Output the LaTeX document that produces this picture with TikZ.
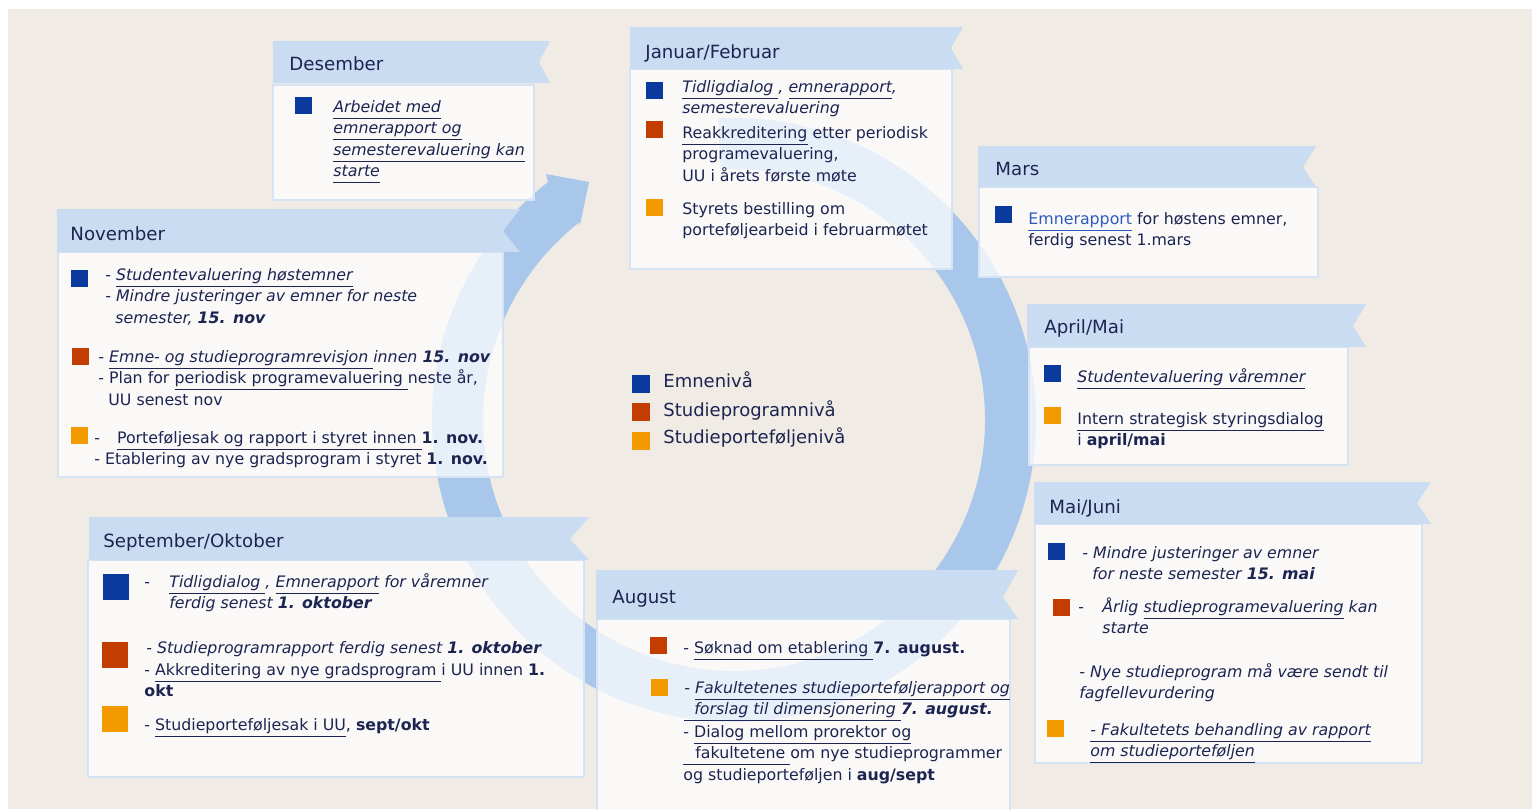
\documentclass[tikz,border=0pt]{standalone}
\usepackage{fontspec}
\setmainfont{DejaVu Sans}

\definecolor{paper}{HTML}{F0EBE4}
\definecolor{cyclecol}{HTML}{A9C7EA}
\definecolor{headblue}{HTML}{CADCF1}
\definecolor{boxfill}{HTML}{FFFFFF}
\definecolor{boxline}{HTML}{D5E3F4}
\definecolor{ink}{HTML}{1C2452}
\definecolor{linkblue}{HTML}{2F5BC0}
\definecolor{lvlblue}{HTML}{0B3A9F}
\definecolor{lvlred}{HTML}{C43D00}
\definecolor{lvlorange}{HTML}{F29A00}

\newcommand\bodyfont{\fontsize{7.9}{10.75}\selectfont}
\newcommand\headfont{\fontsize{9.1}{11}\selectfont}
\newcommand\legfont{\fontsize{9}{11}\selectfont}
\newcommand\uln[1]{\smash{\underline{#1\vphantom{g}}}}
% lines of one item, the first baseline is the node's base
\newcommand\txtlines[1]{\begin{tabular}[t]{@{}l@{}}#1\end{tabular}}

\tikzset{
  body/.style={fill=boxfill, fill opacity=0.72, draw=boxline, line width=1pt},
  ribbon/.style={fill=headblue},
  sq/.style={rectangle, inner sep=0pt, minimum size=8.5pt},
  txt/.style={anchor=base west, inner sep=0pt, text=ink, font=\bodyfont},
  head/.style={anchor=base west, inner sep=0pt, text=ink, font=\headfont},
  leg/.style={anchor=base west, inner sep=0pt, text=ink, font=\legfont}
}

\begin{document}
\begin{tikzpicture}[x=0.5pt,y=-0.5pt]
\useasboundingbox (0,0) rectangle (1532,809);
\fill[white] (0,0) rectangle (1532,809);
\fill[paper] (8,9) rectangle (1532,809);

% the year cycle
\coordinate (hub) at (734,420);
\fill[cyclecol] ([shift={(267:302)}]hub) arc[start angle=267, end angle=592, radius=302]
  -- (546,174) -- (589,182) -- (580,225)
  -- ([shift={(592:251)}]hub) arc[start angle=592, end angle=267, radius=251] -- cycle;

% legend
\node[sq, fill=lvlblue, minimum size=9pt] (leg-b) at (641,384) {};
\node[sq, fill=lvlred, minimum size=9pt] (leg-r) at (641,412) {};
\node[sq, fill=lvlorange, minimum size=9pt] (leg-o) at (641,441) {};
\node[leg] (leg-t1) at (663,387) {Emnenivå};
\node[leg] (leg-t2) at (663,416) {Studieprogramnivå};
\node[leg] (leg-t3) at (663,443) {Studieporteføljenivå};

% Desember
\draw[body] (273,85) rectangle (534,200);
\fill[ribbon] (273,41) -- (550,41) -- (539,62) -- (550,83) -- (273,83) -- cycle;
\node[head] (des-h) at (289,70) {Desember};
\node[sq, fill=lvlblue] (des-b) at (303,105) {};
\node[txt, font=\bodyfont\itshape] (des-t1) at (333,112) {\txtlines{\uln{Arbeidet med}\\\uln{emnerapport og}\\\uln{semesterevaluering kan}\\\uln{starte}}};

% Januar/Februar
\draw[body] (630,69) rectangle (952,269);
\fill[ribbon] (630,27) -- (963,27) -- (951,48) -- (963,69) -- (630,69) -- cycle;
\node[head] (jan-h) at (645,58) {Januar/Februar};
\node[sq, fill=lvlblue] (jan-b) at (654.5,90) {};
\node[sq, fill=lvlred] (jan-r) at (654.5,129.5) {};
\node[sq, fill=lvlorange] (jan-o) at (654.5,207.5) {};
\node[txt, font=\bodyfont\itshape] (jan-t1) at (682,92) {\txtlines{\uln{Tidligdialog }, \uln{emnerapport},\\semesterevaluering}};
\node[txt] (jan-t2) at (682,138) {\txtlines{\uln{Reakkreditering} etter periodisk\\programevaluering,\\UU i årets første møte}};
\node[txt] (jan-t3) at (682,214) {\txtlines{Styrets bestilling om\\porteføljearbeid i februarmøtet}};

% Mars
\draw[body] (979,187) rectangle (1318,277);
\fill[ribbon] (978,146) -- (1316,146) -- (1303,167) -- (1316,187) -- (978,187) -- cycle;
\node[head] (mar-h) at (995,175) {Mars};
\node[sq, fill=lvlblue] (mar-b) at (1003,214.5) {};
\node[txt] (mar-t1) at (1028,224) {\txtlines{\textcolor{linkblue}{\uln{Emnerapport}} for høstens emner,\\ferdig senest 1.mars}};

% April/Mai
\draw[body] (1029,347) rectangle (1348,465);
\fill[ribbon] (1027,304) -- (1366,304) -- (1353,326) -- (1366,347) -- (1027,347) -- cycle;
\node[head] (apr-h) at (1044,333) {April/Mai};
\node[sq, fill=lvlblue] (apr-b) at (1052,373.5) {};
\node[sq, fill=lvlorange] (apr-o) at (1052,415.5) {};
\node[txt, font=\bodyfont\itshape] (apr-t1) at (1077,382) {\uln{Studentevaluering våremner}};
\node[txt] (apr-t2) at (1077,424) {\txtlines{\uln{Intern strategisk styringsdialog}\\i \textbf{april/mai}}};

% Mai/Juni
\draw[body] (1035,524) rectangle (1422,763);
\fill[ribbon] (1034,482) -- (1431,482) -- (1417,503) -- (1431,524) -- (1034,524) -- cycle;
\node[head] (mai-h) at (1049,513) {Mai/Juni};
\node[sq, fill=lvlblue] (mai-b) at (1056.5,551.5) {};
\node[sq, fill=lvlred] (mai-r) at (1061.5,607) {};
\node[sq, fill=lvlorange] (mai-o) at (1055.5,728.5) {};
\node[txt, font=\bodyfont\itshape] (mai-t1) at (1082,558) {\txtlines{- Mindre justeringer av emner\\\hspace*{5pt}for neste semester \textbf{15. mai}}};
\node[txt] (mai-d2) at (1078,612) {-};
\node[txt, font=\bodyfont\itshape] (mai-t2) at (1102,612) {\txtlines{Årlig \uln{studieprogramevaluering} kan\\starte}};
\node[txt, font=\bodyfont\itshape] (mai-t3) at (1079,677) {\txtlines{- Nye studieprogram må være sendt til\\fagfellevurdering}};
\node[txt, font=\bodyfont\itshape] (mai-t4) at (1090,735) {\txtlines{\uln{- Fakultetets behandling av rapport}\\\uln{om studieporteføljen}}};

% November
\draw[body] (58,252) rectangle (503,477);
\fill[ribbon] (57,209) -- (520,209) -- (503,231) -- (520,252) -- (57,252) -- cycle;
\node[head] (nov-h) at (70,240) {November};
\node[sq, fill=lvlblue] (nov-b) at (79.5,278) {};
\node[sq, fill=lvlred] (nov-r) at (80,356.5) {};
\node[sq, fill=lvlorange] (nov-o) at (79,435.5) {};
\node[txt, font=\bodyfont\itshape] (nov-t1) at (105,280) {\txtlines{- \uln{Studentevaluering høstemner}\\- Mindre justeringer av emner for neste\\\hspace*{5pt}semester, \textbf{15. nov}}};
\node[txt] (nov-t2) at (98,362) {\txtlines{\textit{- \uln{Emne- og studieprogramrevisjon }innen \textbf{15. nov}}\\- Plan for \uln{periodisk programevaluering }neste år,\\\hspace*{5pt}UU senest nov}};
\node[txt] (nov-t3) at (94,443) {\txtlines{-\hspace{8.5pt}\uln{Porteføljesak og rapport i styret innen }\textbf{1. nov.}\\- Etablering av nye gradsprogram i styret \textbf{1. nov.}}};

% September/Oktober
\draw[body] (88,560) rectangle (584,777);
\fill[ribbon] (89,517) -- (589,517) -- (570,539) -- (589,560) -- (89,560) -- cycle;
\node[head] (sep-h) at (103,547) {September/Oktober};
\node[sq, fill=lvlblue, minimum size=13pt] (sep-b) at (116,587) {};
\node[sq, fill=lvlred, minimum size=13pt] (sep-r) at (115,655) {};
\node[sq, fill=lvlorange, minimum size=13pt] (sep-o) at (115,719) {};
\node[txt] (sep-d1) at (144,587) {-};
\node[txt, font=\bodyfont\itshape] (sep-t1) at (169,587) {\txtlines{\uln{Tidligdialog }, \uln{Emnerapport} for våremner\\ferdig senest \textbf{1. oktober}}};
\node[txt, font=\bodyfont\itshape] (sep-t2) at (146,653) {- Studieprogramrapport ferdig senest \textbf{1. oktober}};
\node[txt] (sep-t3) at (144,675) {\txtlines{- \uln{Akkreditering av nye gradsprogram }i UU innen \textbf{1.}\\\textbf{okt}}};
\node[txt] (sep-t4) at (144,730) {- \uln{Studieporteføljesak i UU}, \textbf{sept/okt}};

% August
\draw[body] (597,619) rectangle (1010,816);
\fill[ribbon] (596,570) -- (1018,570) -- (1003,597) -- (1018,619) -- (596,619) -- cycle;
\node[head] (aug-h) at (612,603) {August};
\node[sq, fill=lvlred] (aug-r) at (658.5,645.5) {};
\node[sq, fill=lvlorange] (aug-o) at (659.5,687.5) {};
\node[txt] (aug-t1) at (683,653) {- \uln{Søknad om etablering }\textbf{7. august.}};
\node[txt, font=\bodyfont\itshape] (aug-t2) at (684,693) {\txtlines{- \uln{Fakultetenes studieporteføljerapport og}\\\uln{\hspace*{5pt}forslag til dimensjonering }\textbf{7. august.}}};
\node[txt] (aug-t3) at (683,737) {\txtlines{- \uln{Dialog mellom prorektor og}\\\uln{\hspace*{6pt}fakultetene }om nye studieprogrammer\\og studieporteføljen i \textbf{aug/sept}}};
\end{tikzpicture}
\end{document}
